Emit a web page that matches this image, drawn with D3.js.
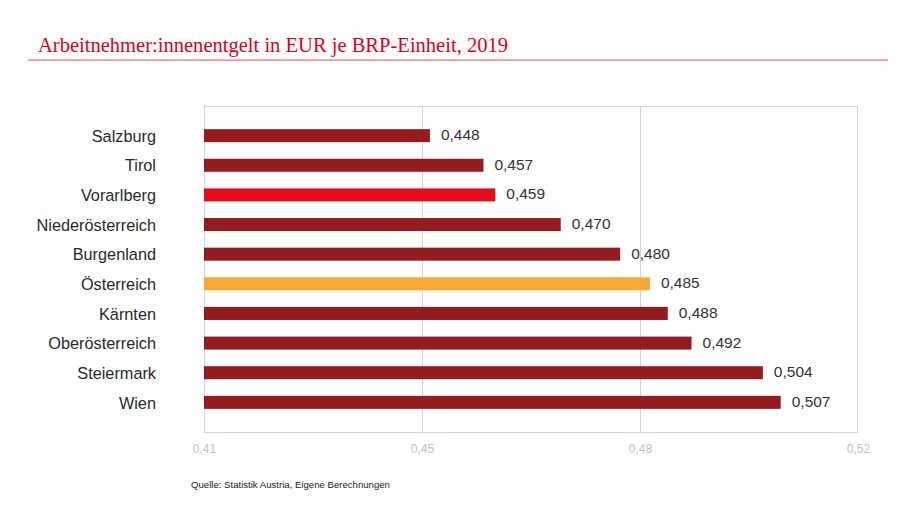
<!DOCTYPE html>
<html><head><meta charset="utf-8">
<script src="https://cdn.jsdelivr.net/npm/d3@7"></script>
<style>body{margin:0;background:#fff;}svg{display:block;}</style>
</head><body>
<svg id="c" width="900" height="506"></svg>
<script>
const categories = ["Salzburg","Tirol","Vorarlberg","Niederösterreich","Burgenland","Österreich","Kärnten","Oberösterreich","Steiermark","Wien"];
const values = [0.448,0.457,0.459,0.470,0.480,0.485,0.488,0.492,0.504,0.507];
const highlight = {"Vorarlberg":"#e30d1e","Österreich":"#f6aa35"};
const tickValues = [0.41, 0.41+0.11/3, 0.41+0.22/3, 0.52];
const title = "Arbeitnehmer:innenentgelt in EUR je BRP-Einheit, 2019";
const source = "Quelle: Statistik Austria, Eigene Berechnungen";

const svg = d3.select("#c");
const L=204, R=858, T=106, B=432;
const x = d3.scaleLinear().domain([0.41,0.52]).range([L,R]);
const y = d3.scalePoint().domain(categories).range([T,B]).padding(1);
const fmt = v => d3.format(".3f")(v).replace(".",",");
const fmt2 = v => d3.format(".2f")(v).replace(".",",");

// title
svg.append("text").attr("x",38).attr("y",52).text(title)
  .attr("font-family","Liberation Serif, serif").attr("font-size",20).attr("fill","#e2001a")
  .attr("textLength",470).attr("lengthAdjust","spacingAndGlyphs");
svg.append("rect").attr("x",28).attr("y",59.5).attr("width",860).attr("height",1.2)
  .attr("fill","#f0676a");

// frame
svg.append("rect").attr("x",L+0.5).attr("y",T+0.5).attr("width",R-L-1).attr("height",B-T)
  .attr("fill","none").attr("stroke","#ccd6df").attr("stroke-width",1);
// gridlines
svg.append("g").selectAll("line").data(tickValues.slice(1,3)).join("line")
  .attr("x1",d=>Math.round(x(d))+0.5).attr("x2",d=>Math.round(x(d))+0.5)
  .attr("y1",T).attr("y2",B).attr("stroke","#ccd6df");

// x axis labels
const xAxis = d3.axisBottom(x).tickValues(tickValues).tickFormat(fmt2).tickSize(0).tickPadding(0);
const gx = svg.append("g").attr("transform",`translate(0,${B+12})`).call(xAxis);
gx.select(".domain").remove();
gx.selectAll("text").attr("font-family","Liberation Sans, Arial, sans-serif").attr("font-size",12)
  .attr("fill","#b9c4cf");

// y axis labels
const yAxis = d3.axisLeft(y).tickSize(0).tickPadding(0);
const gy = svg.append("g").attr("transform",`translate(156,0)`).call(yAxis);
gy.select(".domain").remove();
gy.selectAll("text").attr("font-family","Liberation Sans, Arial, sans-serif").attr("font-size",16.3)
  .attr("fill","#2a2a2a").attr("dy","0.35em");

// bars
const data = categories.map((c,i)=>({c, v:values[i]}));
const bh = 13;
svg.append("g").selectAll("rect").data(data).join("rect")
  .attr("x",x(0.41)).attr("y",d=>y(d.c)-bh/2).attr("width",d=>x(d.v)-x(0.41)).attr("height",bh)
  .attr("fill",d=>highlight[d.c]||"#941b1e");
svg.append("g").selectAll("text").data(data).join("text")
  .attr("x",d=>x(d.v)+11).attr("y",d=>y(d.c)-1).attr("dy","0.35em")
  .text(d=>fmt(d.v))
  .attr("font-family","Liberation Sans, Arial, sans-serif").attr("font-size",15.5).attr("fill","#333");

// source
svg.append("text").attr("x",191).attr("y",488).text(source)
  .attr("font-family","Liberation Sans, Arial, sans-serif").attr("font-size",9.6).attr("fill","#222");
</script>
</body></html>
